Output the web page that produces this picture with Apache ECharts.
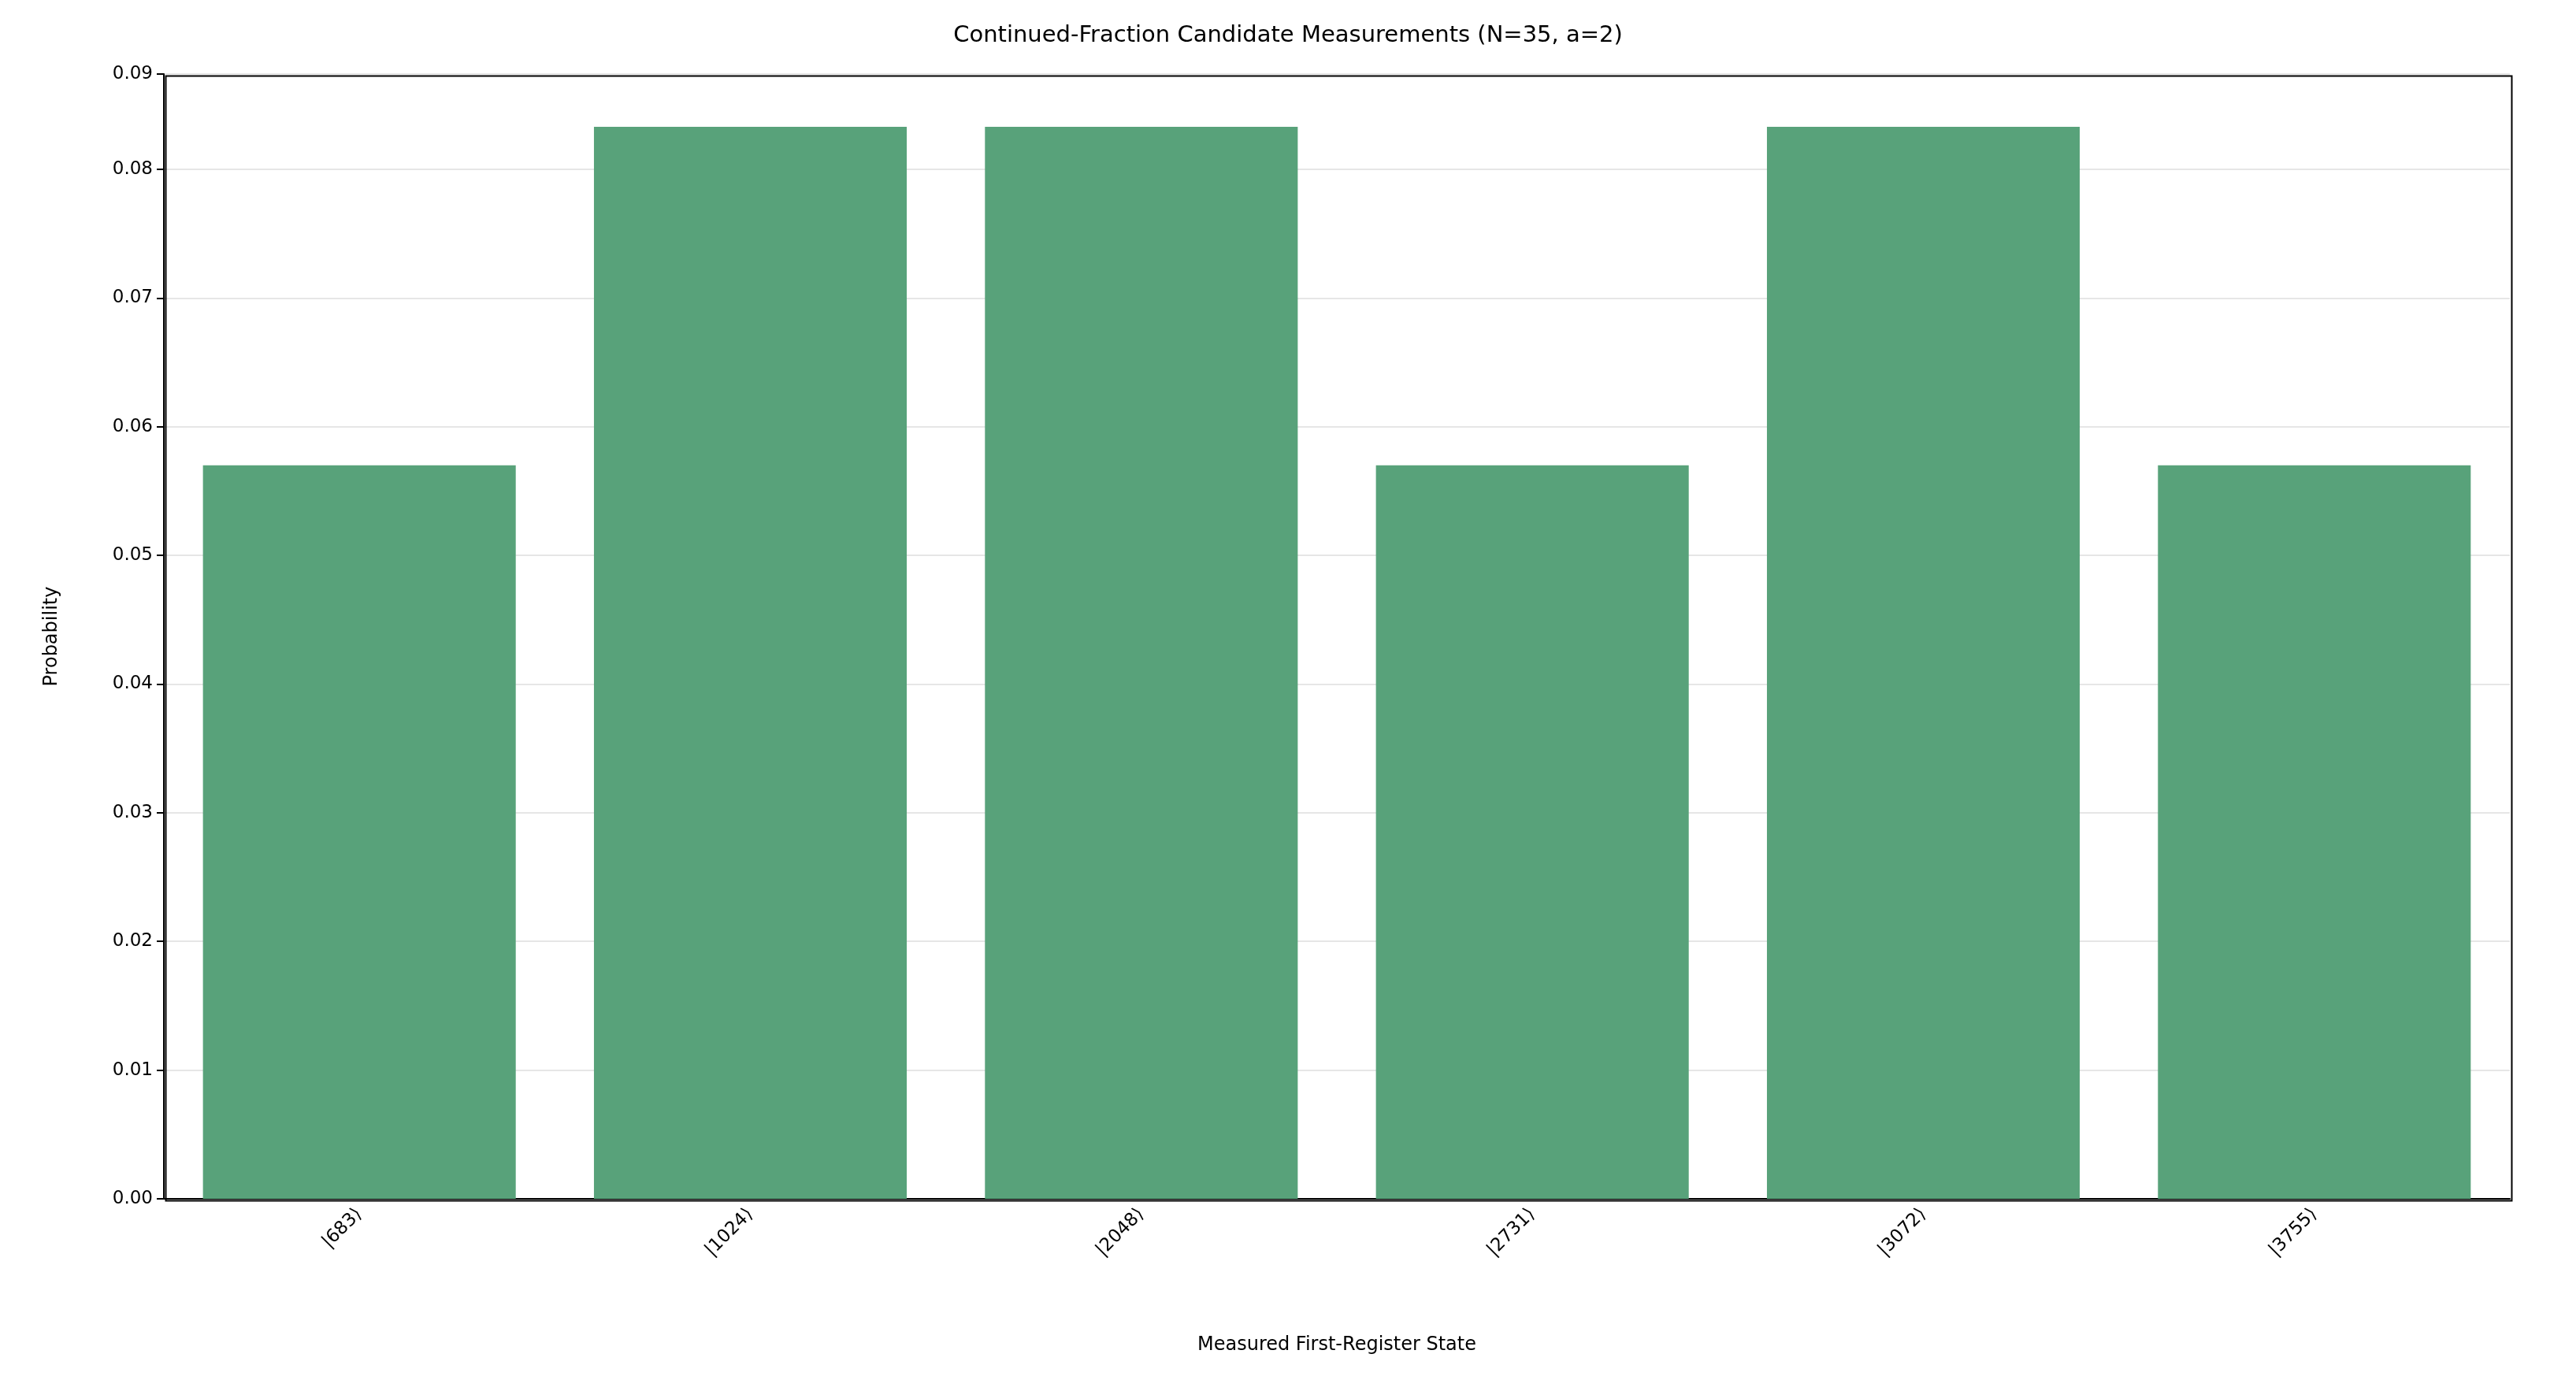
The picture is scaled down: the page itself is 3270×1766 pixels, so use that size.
<!DOCTYPE html>
<html><head><meta charset="utf-8">
<script src="https://cdn.jsdelivr.net/npm/echarts@6/dist/echarts.min.js"></script>
<style>html,body{margin:0;padding:0;background:#fff}#c{width:3270px;height:1766px}</style>
</head><body><div id="c"></div>
<script>
const categories = ['|683⟩','|1024⟩','|2048⟩','|2731⟩','|3072⟩','|3755⟩'];
const probabilities = [0.0570, 0.0833, 0.0833, 0.0570, 0.0833, 0.0570];
const yTicks = {min:0, max:0.0874, interval:0.01};
const chart = echarts.init(document.getElementById('c'));
const F = 'DejaVu Sans';
chart.setOption({
  animation:false,
  title:{text:'Continued-Fraction Candidate Measurements (N=35, a=2)',left:'center',top:26,
    textStyle:{fontFamily:F,fontSize:29,fontWeight:'normal',color:'#000'}},
  grid:{left:208,right:84,top:94,bottom:244},
  xAxis:{type:'category',data:categories,name:'Measured First-Register State',nameLocation:'middle',nameGap:174,
    nameTextStyle:{fontFamily:F,fontSize:24,color:'#000'},
    axisLine:{lineStyle:{color:'#000',width:2}},axisTick:{alignWithLabel:true,length:9,lineStyle:{color:'#000',width:2}},
    axisLabel:{rotate:45,fontFamily:F,fontSize:23,color:'#000',margin:16}},
  yAxis:{type:'value',min:yTicks.min,max:yTicks.max,interval:yTicks.interval,name:'Probability',nameLocation:'middle',nameGap:130,
    nameTextStyle:{fontFamily:F,fontSize:24,color:'#000'},
    axisLine:{show:true,lineStyle:{color:'#000',width:2}},axisTick:{show:true,length:9,lineStyle:{color:'#000',width:2}},
    axisLabel:{fontFamily:F,fontSize:23,color:'#000',margin:14,formatter:v=>v.toFixed(2)},
    splitLine:{show:true,lineStyle:{color:'#e6e6e6',width:2}}},
  series:[{type:'bar',data:probabilities,barCategoryGap:'20%',itemStyle:{color:'#58a27a'}}]
});
// top/right frame
chart.setOption({graphic:[{type:'rect',left:208,top:94,shape:{width:3270-208-84,height:1766-94-244},style:{fill:'none',stroke:'#000',lineWidth:2},silent:true}]});
</script></body></html>
